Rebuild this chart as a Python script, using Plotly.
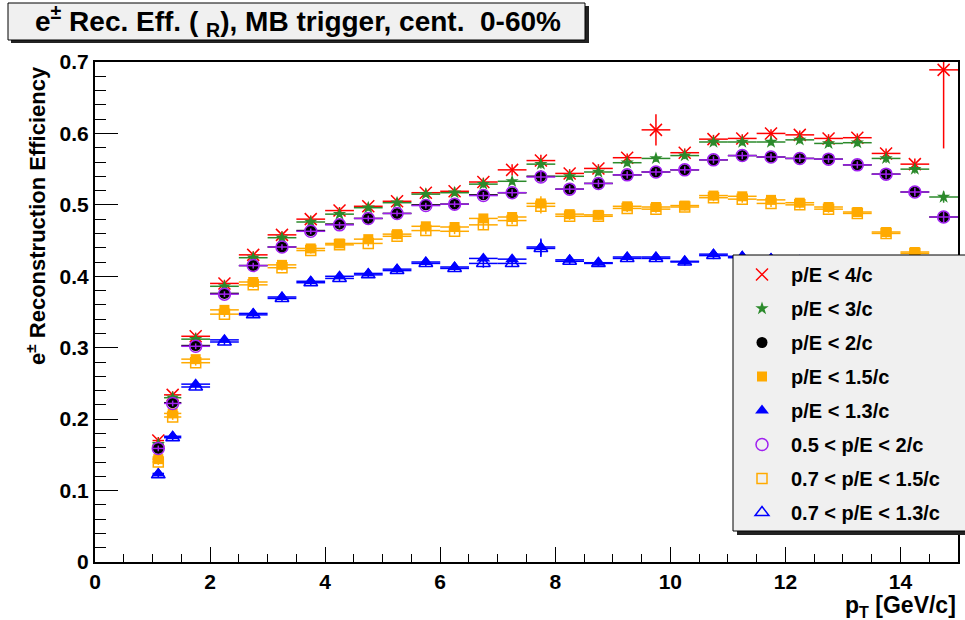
import plotly.graph_objects as go

# ---- data ----
pt = [1.1, 1.35, 1.75, 2.25, 2.75, 3.25, 3.75, 4.25, 4.75, 5.25, 5.75, 6.25, 6.75, 7.25, 7.75,
      8.25, 8.75, 9.25, 9.75, 10.25, 10.75, 11.25, 11.75, 12.25, 12.75, 13.25, 13.75, 14.25, 14.75]
pt_err = [0.1, 0.15, 0.25, 0.25, 0.25, 0.25, 0.25, 0.25, 0.25, 0.25, 0.25, 0.25, 0.25, 0.25, 0.25,
          0.25, 0.25, 0.25, 0.25, 0.25, 0.25, 0.25, 0.25, 0.25, 0.25, 0.25, 0.25, 0.25, 0.25]

eff_pe4 = [0.170, 0.234, 0.316, 0.390, 0.430, 0.458, 0.480, 0.492, 0.498, 0.505, 0.517, 0.519, 0.532, 0.549, 0.562,
           0.544, 0.551, 0.566, 0.605, 0.573, 0.592, 0.593, 0.600, 0.598, 0.593, 0.594, 0.572, 0.557, 0.689]
err_pe4 = [0.005, 0.005, 0.005, 0.005, 0.005, 0.005, 0.005, 0.005, 0.005, 0.005, 0.006, 0.006, 0.006, 0.008, 0.008,
           0.006, 0.006, 0.006, 0.022, 0.006, 0.006, 0.006, 0.006, 0.006, 0.006, 0.006, 0.007, 0.008, 0.110]

eff_pe3 = [0.165, 0.230, 0.312, 0.386, 0.426, 0.454, 0.476, 0.487, 0.496, 0.503, 0.515, 0.517, 0.529, 0.533, 0.557,
           0.540, 0.546, 0.559, 0.565, 0.569, 0.588, 0.588, 0.588, 0.591, 0.586, 0.587, 0.565, 0.550, 0.511]
err_pe3 = [0.004, 0.004, 0.004, 0.004, 0.004, 0.004, 0.004, 0.004, 0.004, 0.004, 0.004, 0.004, 0.005, 0.005, 0.006,
           0.005, 0.005, 0.005, 0.005, 0.005, 0.005, 0.005, 0.005, 0.005, 0.005, 0.005, 0.006, 0.006, 0.008]

eff_pe2 = [0.159, 0.223, 0.303, 0.376, 0.415, 0.441, 0.464, 0.473, 0.481, 0.488, 0.500, 0.501, 0.514, 0.517, 0.540,
           0.522, 0.530, 0.542, 0.546, 0.549, 0.563, 0.569, 0.567, 0.565, 0.564, 0.556, 0.543, 0.518, 0.483]
err_pe2 = [0.004, 0.004, 0.004, 0.004, 0.004, 0.004, 0.004, 0.004, 0.004, 0.004, 0.004, 0.004, 0.005, 0.005, 0.008,
           0.005, 0.005, 0.005, 0.005, 0.005, 0.005, 0.005, 0.005, 0.005, 0.005, 0.005, 0.006, 0.006, 0.008]

eff_pe15 = [0.144, 0.208, 0.284, 0.353, 0.392, 0.416, 0.439, 0.446, 0.452, 0.459, 0.470, 0.469, 0.481, 0.483, 0.502,
            0.487, 0.486, 0.498, 0.497, 0.499, 0.513, 0.512, 0.507, 0.503, 0.497, 0.490, 0.462, 0.434, 0.405]
err_pe15 = [0.004, 0.004, 0.004, 0.004, 0.004, 0.004, 0.004, 0.004, 0.004, 0.004, 0.004, 0.004, 0.005, 0.005, 0.010,
            0.005, 0.005, 0.005, 0.005, 0.005, 0.005, 0.005, 0.005, 0.005, 0.005, 0.005, 0.006, 0.006, 0.008]

eff_pe13 = [0.124, 0.176, 0.249, 0.311, 0.348, 0.371, 0.393, 0.400, 0.404, 0.410, 0.420, 0.413, 0.425, 0.424, 0.441,
            0.423, 0.419, 0.427, 0.427, 0.421, 0.431, 0.428, 0.425, 0.422, 0.418, 0.412, 0.404, 0.395, 0.385]
err_pe13 = [0.004, 0.004, 0.004, 0.004, 0.004, 0.004, 0.004, 0.004, 0.004, 0.004, 0.004, 0.004, 0.005, 0.005, 0.012,
            0.005, 0.005, 0.005, 0.005, 0.005, 0.005, 0.005, 0.005, 0.005, 0.005, 0.005, 0.006, 0.006, 0.008]

eff_05_2 = [0.159, 0.222, 0.302, 0.375, 0.415, 0.441, 0.463, 0.472, 0.481, 0.488, 0.499, 0.501, 0.513, 0.517, 0.539,
            0.522, 0.530, 0.542, 0.546, 0.549, 0.563, 0.569, 0.567, 0.565, 0.564, 0.556, 0.543, 0.518, 0.483]
err_05_2 = [0.004, 0.004, 0.004, 0.004, 0.004, 0.004, 0.004, 0.004, 0.004, 0.004, 0.004, 0.004, 0.005, 0.005, 0.008,
            0.005, 0.005, 0.005, 0.005, 0.005, 0.005, 0.005, 0.005, 0.005, 0.005, 0.005, 0.006, 0.006, 0.008]

eff_07_15 = [0.140, 0.203, 0.279, 0.347, 0.388, 0.412, 0.436, 0.444, 0.446, 0.456, 0.464, 0.463, 0.472, 0.478, 0.498,
             0.484, 0.484, 0.495, 0.494, 0.497, 0.510, 0.508, 0.502, 0.500, 0.494, 0.488, 0.460, 0.432, 0.402]
err_07_15 = [0.004, 0.004, 0.004, 0.004, 0.004, 0.004, 0.004, 0.004, 0.004, 0.004, 0.005, 0.004, 0.006, 0.005, 0.010,
             0.005, 0.005, 0.005, 0.005, 0.005, 0.005, 0.005, 0.005, 0.005, 0.005, 0.005, 0.006, 0.006, 0.008]

eff_07_13 = [0.122, 0.174, 0.245, 0.308, 0.346, 0.369, 0.391, 0.397, 0.402, 0.408, 0.418, 0.411, 0.418, 0.418, 0.439,
             0.421, 0.418, 0.425, 0.425, 0.420, 0.429, 0.426, 0.423, 0.420, 0.416, 0.410, 0.402, 0.393, 0.383]
err_07_13 = [0.004, 0.004, 0.004, 0.004, 0.004, 0.004, 0.004, 0.004, 0.004, 0.004, 0.004, 0.004, 0.006, 0.005, 0.012,
             0.005, 0.005, 0.005, 0.005, 0.005, 0.005, 0.005, 0.005, 0.005, 0.005, 0.005, 0.006, 0.006, 0.008]

labels = ["p/E < 4/c", "p/E < 3/c", "p/E < 2/c", "p/E < 1.5/c", "p/E < 1.3/c",
          "0.5 < p/E < 2/c", "0.7 < p/E < 1.5/c", "0.7 < p/E < 1.3/c"]

title_text = "e<sup>±</sup> Rec. Eff. ( <sub>R</sub>), MB trigger, cent.\u00a0 0-60%"
ytitle_text = "e<sup>±</sup> Reconstruction Efficiency"
xtitle_text = "p<sub>T</sub> [GeV/c]"

# ---- styles ----
RED, GREEN, BLACK, ORANGE, BLUE, PURPLE = "#ff0000", "#2b8a2b", "#000000", "#ffaa00", "#0000ff", "#a020f0"
series = [
    (eff_pe4, err_pe4, RED, "x-thin-open", 12, 1.5),
    (eff_pe3, err_pe3, GREEN, "star", 10, 0),
    (eff_pe2, err_pe2, BLACK, "circle", 11, 0),
    (eff_pe15, err_pe15, ORANGE, "square", 10, 0),
    (eff_pe13, err_pe13, BLUE, "triangle-up", 12, 0),
    (eff_05_2, err_05_2, PURPLE, "circle-open", 12, 1.5),
    (eff_07_15, err_07_15, ORANGE, "square-open", 10, 1.5),
    (eff_07_13, err_07_13, BLUE, "triangle-up-open", 12, 1.5),
]

FONT = "Liberation Sans, Arial, sans-serif"

fig = go.Figure()
for i, (vals, errs, col, sym, size, lw) in enumerate(series):
    fig.add_trace(go.Scatter(
        x=pt, y=vals, mode="markers", name=labels[i], legendgroup=f"g{i}",
        marker=dict(symbol=sym, size=size, color=col, line=dict(color=col, width=lw)),
        error_y=dict(type="data", array=errs, color=col, thickness=1.5, width=0),
        error_x=dict(type="data", array=pt_err, color=col, thickness=1.5, width=0),
        cliponaxis=True,
    ))

W, H = 965, 620
L, R, T, B = 95, 7, 62, 58
pw, ph = W - L - R, H - T - B


def px(xp):
    return (xp - L) / pw


def py(yp):
    return (H - B - yp) / ph


shapes = [
    # title box shadow + box
    dict(type="rect", xref="paper", yref="paper", x0=px(11), x1=px(589), y0=py(43), y1=py(6),
         fillcolor="#222222", line=dict(width=0), layer="above"),
    dict(type="rect", xref="paper", yref="paper", x0=px(8), x1=px(585), y0=py(40), y1=py(3),
         fillcolor="#f0f0f0", line=dict(color="black", width=1), layer="above"),
    # legend shadow + box
    dict(type="rect", xref="paper", yref="paper", x0=px(737), x1=px(975), y0=py(535), y1=py(259),
         fillcolor="#222222", line=dict(width=0), layer="above"),
    dict(type="rect", xref="paper", yref="paper", x0=px(733), x1=px(972), y0=py(531), y1=py(255),
         fillcolor="#f0f0f0", line=dict(color="black", width=1), layer="above"),
]

annotations = [
    dict(text=title_text, xref="paper", yref="paper", x=px(298), y=py(21), xanchor="center", yanchor="middle",
         showarrow=False, font=dict(family=FONT, size=28, color="black", weight="bold")),
    dict(text=ytitle_text, xref="paper", yref="paper", x=px(36), y=py(216), xanchor="center", yanchor="middle",
         textangle=-90, showarrow=False, font=dict(family=FONT, size=22, color="black", weight="bold")),
    dict(text=xtitle_text, xref="paper", yref="paper", x=1.0, y=py(606), xanchor="right", yanchor="middle",
         showarrow=False, font=dict(family=FONT, size=23, color="black", weight="bold")),
]

fig.update_layout(
    width=W, height=H,
    margin=dict(l=L, r=R, t=T, b=B, autoexpand=False),
    paper_bgcolor="white", plot_bgcolor="white",
    font=dict(family=FONT, color="black"),
    showlegend=True,
    legend=dict(x=px(733), y=py(255), xanchor="left", yanchor="top",
                bgcolor="rgba(0,0,0,0)", borderwidth=0,
                font=dict(family=FONT, size=20, color="black", weight="bold"),
                tracegroupgap=5, itemwidth=48, traceorder="grouped"),
    xaxis=dict(range=[0, 15], dtick=2, tick0=0, ticks="inside", ticklen=15, tickwidth=1, tickcolor="black",
               showgrid=False, zeroline=False, showline=True, linecolor="black", linewidth=2, mirror=True,
               automargin=False,
               tickfont=dict(family=FONT, size=21, color="black", weight="bold"),
               minor=dict(dtick=0.5, ticks="inside", ticklen=8, tickcolor="black", showgrid=False)),
    yaxis=dict(range=[0, 0.7], dtick=0.1, tick0=0, ticks="inside", ticklen=23, tickwidth=1, tickcolor="black",
               showgrid=False, zeroline=False, showline=True, linecolor="black", linewidth=2, mirror=True,
               automargin=False,
               tickfont=dict(family=FONT, size=21, color="black", weight="bold"),
               minor=dict(dtick=0.02, ticks="inside", ticklen=11, tickcolor="black", showgrid=False)),
    shapes=shapes,
    annotations=annotations,
)

fig.write_html("out.html", config={"displayModeBar": False},
               post_script="document.body.style.margin='0';document.body.style.overflow='hidden';")
